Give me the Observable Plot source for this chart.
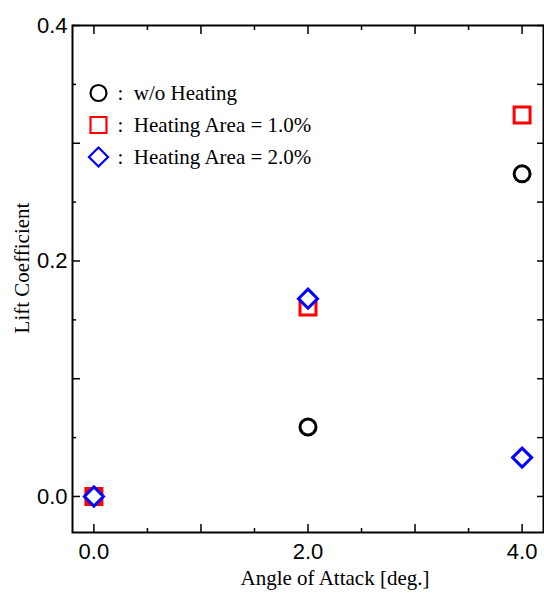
<!DOCTYPE html>
<html>
<head>
<meta charset="utf-8">
<script src="https://cdn.jsdelivr.net/npm/d3@7"></script>
<script src="https://cdn.jsdelivr.net/npm/@observablehq/plot@0.6"></script>
<style>
  html, body { margin: 0; padding: 0; background: #fff; }
  #chart svg { display: block; }
</style>
</head>
<body>
<div id="chart"></div>
<script>
// ---- data ----
const angles = [0, 2, 4];
const liftNoHeating = [0, 0.059, 0.274];
const liftArea1 = [0, 0.161, 0.324];
const liftArea2 = [0, 0.168, 0.033];

const seriesNames = ["w/o Heating", "Heating Area = 1.0%", "Heating Area = 2.0%"];
const seriesValues = [liftNoHeating, liftArea1, liftArea2];
const seriesSymbols = ["circle", "square", "diamond2"];
const seriesColors = ["#000000", "#ff0000", "#0000ff"];
const seriesR = [8, 9, 8.6];

const xLabelTicks = [0, 2, 4];
const xMajorTicks = [0, 1, 2, 3, 4];
const xMinorTicks = [0.5, 1.5, 2.5, 3.5];
const yLabelTicks = [0, 0.2, 0.4];
const yMajorTicks = [0, 0.1, 0.2, 0.3, 0.4];
const yMinorTicks = [0.05, 0.15, 0.25, 0.35];

const xTitle = "Angle of Attack [deg.]";
const yTitle = "Lift Coefficient";

// ---- build ----
const serif = "'Liberation Serif', 'Times New Roman', serif";
const sans = "'Liberation Sans', Arial, sans-serif";

const table = seriesNames.map((name, s) =>
  angles.map((a, i) => ({series: name, s, angle: a, lift: seriesValues[s][i]}))
);

const dataMarks = table.map((rows, s) =>
  Plot.dot(rows, {
    x: "angle", y: "lift",
    symbol: () => seriesSymbols[s],
    r: seriesR[s],
    stroke: seriesColors[s],
    strokeWidth: 3,
    fill: d => (s === 1 && d.angle === 0) ? seriesColors[s] : "white"
  })
);

const legendMarks = [];
seriesNames.forEach((name, s) => {
  const dy = 67.5 + s * 32;
  legendMarks.push(Plot.dot([name], {
    frameAnchor: "top-left", dx: 26, dy,
    symbol: () => seriesSymbols[s], r: seriesR[s],
    stroke: seriesColors[s], strokeWidth: 2.2, fill: "white"
  }));
  legendMarks.push(Plot.text([name], {
    frameAnchor: "top-left", dx: 45, dy,
    text: d => ":  " + d, textAnchor: "start", lineAnchor: "middle",
    fontSize: 21, fontFamily: serif, fill: "black"
  }));
});

const chart = Plot.plot({
  width: 544,
  height: 594,
  marginLeft: 72,
  marginRight: 1,
  marginTop: 25,
  marginBottom: 62,
  style: {background: "white", color: "black"},
  x: {domain: [-0.2, 4.2]},
  y: {domain: [-0.0306, 0.4]},
  symbol: {type: "identity"},
  marks: [
    // inward ticks, all four sides
    Plot.axisX(xMajorTicks, {anchor: "bottom", tickSize: 8, dy: -8, tickFormat: () => "", label: null, strokeWidth: 1.5}),
    Plot.axisX(xMinorTicks, {anchor: "bottom", tickSize: 4, dy: -4, tickFormat: () => "", label: null, strokeWidth: 1.5}),
    Plot.axisX(xMajorTicks, {anchor: "top", tickSize: 8, dy: 8, tickFormat: () => "", label: null, strokeWidth: 1.5}),
    Plot.axisX(xMinorTicks, {anchor: "top", tickSize: 4, dy: 4, tickFormat: () => "", label: null, strokeWidth: 1.5}),
    Plot.axisY(yMajorTicks, {anchor: "left", tickSize: 8, dx: 8, tickFormat: () => "", label: null, strokeWidth: 1.5}),
    Plot.axisY(yMinorTicks, {anchor: "left", tickSize: 4, dx: 4, tickFormat: () => "", label: null, strokeWidth: 1.5}),
    Plot.axisY(yMajorTicks, {anchor: "right", tickSize: 7, dx: -7, tickFormat: () => "", label: null, strokeWidth: 1.5}),
    Plot.axisY(yMinorTicks, {anchor: "right", tickSize: 7, dx: -7, tickFormat: () => "", label: null, strokeWidth: 1.5}),
    // tick labels
    Plot.axisX(xLabelTicks, {anchor: "bottom", tickSize: 0, tickPadding: 11, tickFormat: d3.format(".1f"), label: null, fontSize: 22, fontFamily: sans}),
    Plot.axisY(yLabelTicks, {anchor: "left", tickSize: 0, tickPadding: 5, tickFormat: d3.format(".1f"), label: null, fontSize: 22, fontFamily: sans}),
    Plot.frame({stroke: "black", strokeWidth: 2}),
    ...dataMarks,
    ...legendMarks,
    // axis titles
    Plot.text([xTitle], {frameAnchor: "bottom", dx: 27, dy: 46, text: d => d, textAnchor: "middle", lineAnchor: "middle", fontSize: 21, fontFamily: serif, fill: "black"}),
    Plot.text([yTitle], {frameAnchor: "left", dx: -50, dy: -11, rotate: -90, text: d => d, textAnchor: "middle", lineAnchor: "middle", fontSize: 21, fontFamily: serif, fill: "black"})
  ]
});

document.getElementById("chart").appendChild(chart);
</script>
</body>
</html>
